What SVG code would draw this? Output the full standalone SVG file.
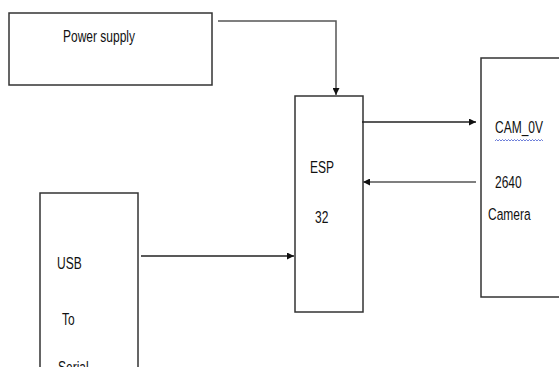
<svg xmlns="http://www.w3.org/2000/svg" width="559" height="367" viewBox="0 0 559 367">
<style>
.box{fill:#fff;stroke:#333;stroke-width:1.5}
.ln{fill:none;stroke:#222;stroke-width:1.5}
.gl{fill:none;stroke:#555;stroke-width:1.5}
.t{font-family:"Liberation Sans",Arial,sans-serif;font-size:12px;fill:#111}
</style>
<defs>
<marker id="ah" viewBox="0 0 10 10" refX="10" refY="5" markerWidth="7" markerHeight="7" markerUnits="userSpaceOnUse" orient="auto">
<path d="M0,0 L10,5 L0,10 Z" fill="#111"/>
</marker>
</defs>
<rect width="559" height="367" fill="#fff"/>
<g id="power">
<rect class="box" x="9" y="13" width="203" height="72"/>
<text class="t" transform="translate(63,42) scale(1,1.45)">Power supply</text>
</g>
<g id="esp32">
<rect class="box" x="295" y="96" width="68" height="216"/>
<text class="t" transform="translate(310,173) scale(1,1.45)">ESP</text>
<text class="t" transform="translate(315,223) scale(1,1.45)">32</text>
</g>
<g id="camera">
<rect class="box" x="481" y="58" width="100" height="239"/>
<text class="t" transform="translate(495,133) scale(1,1.45)">CAM_0V</text>
<path d="M495,141 l1.5,-1.5 l1.5,1.5 l1.5,-1.5 l1.5,1.5 l1.5,-1.5 l1.5,1.5 l1.5,-1.5 l1.5,1.5 l1.5,-1.5 l1.5,1.5 l1.5,-1.5 l1.5,1.5 l1.5,-1.5 l1.5,1.5 l1.5,-1.5 l1.5,1.5 l1.5,-1.5 l1.5,1.5 l1.5,-1.5 l1.5,1.5 l1.5,-1.5 l1.5,1.5 l1.5,-1.5 l1.5,1.5 l1.5,-1.5 l1.5,1.5 l1.5,-1.5 l1.5,1.5 l1.5,-1.5 l1.5,1.5 l1.5,-1.5 l1.5,1.5" fill="none" stroke="#4a5fd0" stroke-width="0.8"/>
<text class="t" transform="translate(495,188) scale(1,1.45)">2640</text>
<text class="t" transform="translate(488,220) scale(1,1.45)">Camera</text>
</g>
<g id="usb">
<rect class="box" x="40" y="193" width="98" height="200"/>
<text class="t" transform="translate(57,269) scale(1,1.45)">USB</text>
<text class="t" transform="translate(62,325) scale(1,1.45)">To</text>
<text class="t" transform="translate(58,373) scale(1,1.45)">Serial</text>
</g>
<g id="connectors">
<path class="gl" d="M218,21 H336 V95" marker-end="url(#ah)"/>
<path class="ln" d="M362,122 H476" marker-end="url(#ah)"/>
<path class="gl" d="M476,182 H363" marker-end="url(#ah)"/>
<path class="ln" d="M141,256 H294" marker-end="url(#ah)"/>
</g>
</svg>
